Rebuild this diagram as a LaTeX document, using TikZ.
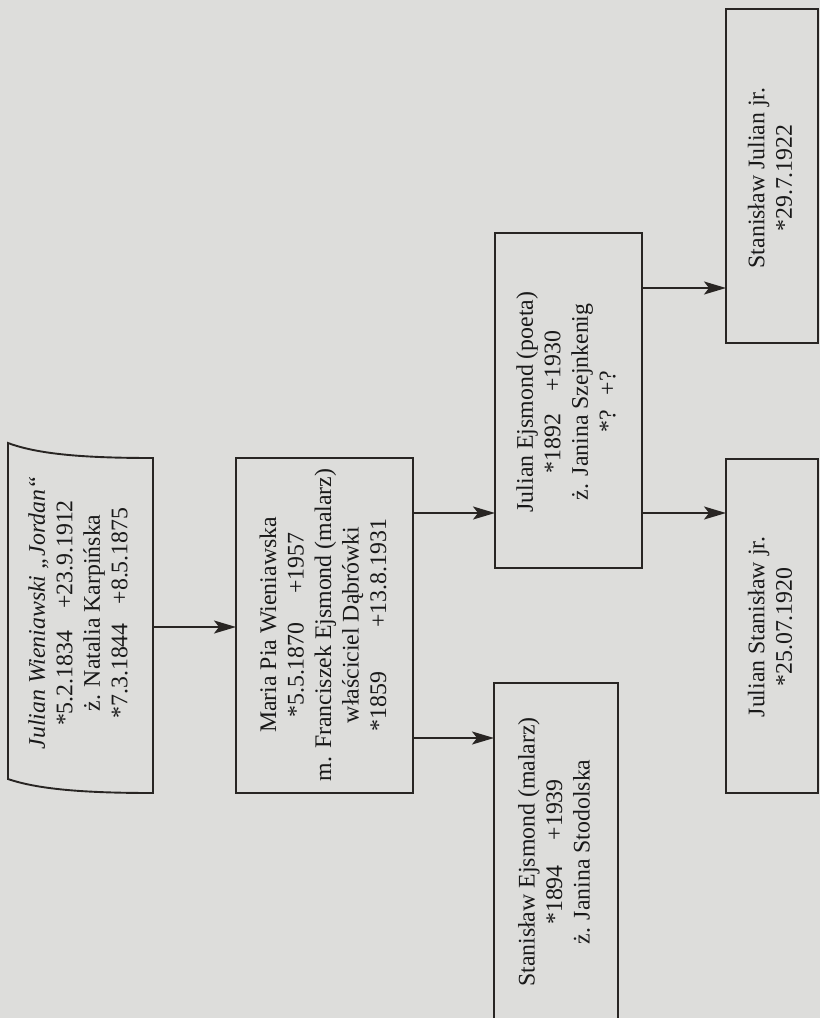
\documentclass[tikz,border=0pt]{standalone}
\usepackage{fontspec}
\setmainfont{Liberation Serif}
\usetikzlibrary{arrows.meta}
\definecolor{paper}{RGB}{221,221,219}
\definecolor{ink}{RGB}{40,37,35}
\begin{document}
\begin{tikzpicture}[x=1pt,y=-1pt,
  boxline/.style={draw=ink, line width=1.9pt},
  famnode/.style={boxline, inner sep=0pt, outer sep=0pt},
  holder/.style={inner sep=0pt, outer sep=0pt},
  famtext/.style={rotate=90, align=center, text=black!90, inner sep=0pt,
    font=\fontsize{23.8}{27.5}\selectfont},
  link/.style={draw=ink, line width=1.9pt,
    -{Stealth[length=22pt,width=13pt,inset=5pt]}}
]
\fill[paper] (0,0) rectangle (820,1018);
\useasboundingbox (0,0) rectangle (820,1018);

% box 1 (document shape)
\node[holder, minimum width=145pt, minimum height=350pt] (b1) at (80.5,618) {};
\draw[boxline] (8,443) .. controls (40,455) and (90,458) .. (153,458)
  -- (153,793) .. controls (90,793) and (40,790) .. (8,779) -- cycle;

% other boxes
\node[famnode, minimum width=177pt, minimum height=335pt] (b2) at (324.5,625.5) {};
\node[famnode, minimum width=124pt, minimum height=340pt] (b3) at (556,853) {};
\node[famnode, minimum width=147pt, minimum height=335pt] (b4) at (568.5,400.5) {};
\node[famnode, minimum width=92pt, minimum height=334pt] (b5) at (772,176) {};
\node[famnode, minimum width=92pt, minimum height=334pt] (b6) at (772,626) {};

% texts
\node[famtext] (t1) at (78,613) {\textit{Julian Wieniawski „Jordan“}\\
  *5.2.1834\hspace{22pt}+23.9.1912\\
  ż. Natalia Karpińska\\
  *7.3.1844\hspace{19pt}+8.5.1875};
\node[famtext] (t2) at (323,625) {Maria Pia Wieniawska\\
  *5.5.1870\hspace{29pt}+1957\\
  m. Franciszek Ejsmond (malarz)\\
  właściciel Dąbrówki\\
  *1859\hspace{44pt}+13.8.1931};
\node[famtext] (t3) at (554,852) {Stanisław Ejsmond (malarz)\\
  *1894\hspace{25pt}+1939\\
  ż. Janina Stodolska};
\node[famtext] (t4) at (566,402) {Julian Ejsmond (poeta)\\
  *1892\hspace{22pt}+1930\\
  ż. Janina Szejnkenig\\
  *?\hspace{15pt}+?};
\node[famtext] (t5) at (770,178) {Stanisław Julian jr.\\ *29.7.1922};
\node[famtext] (t6) at (770,627) {Julian Stanisław jr.\\ *25.07.1920};

% connectors
\coordinate (r12) at (0,627);
\coordinate (r24) at (0,513);
\coordinate (r23) at (0,738);
\coordinate (r45) at (0,288);
\coordinate (r46) at (0,513);
\draw[link] (b1.east |- r12) -- (b2.west |- r12);
\draw[link] (b2.east |- r24) -- (b4.west |- r24);
\draw[link] (b2.east |- r23) -- (b3.west |- r23);
\draw[link] (b4.east |- r45) -- (b5.west |- r45);
\draw[link] (b4.east |- r46) -- (b6.west |- r46);
\end{tikzpicture}
\end{document}
